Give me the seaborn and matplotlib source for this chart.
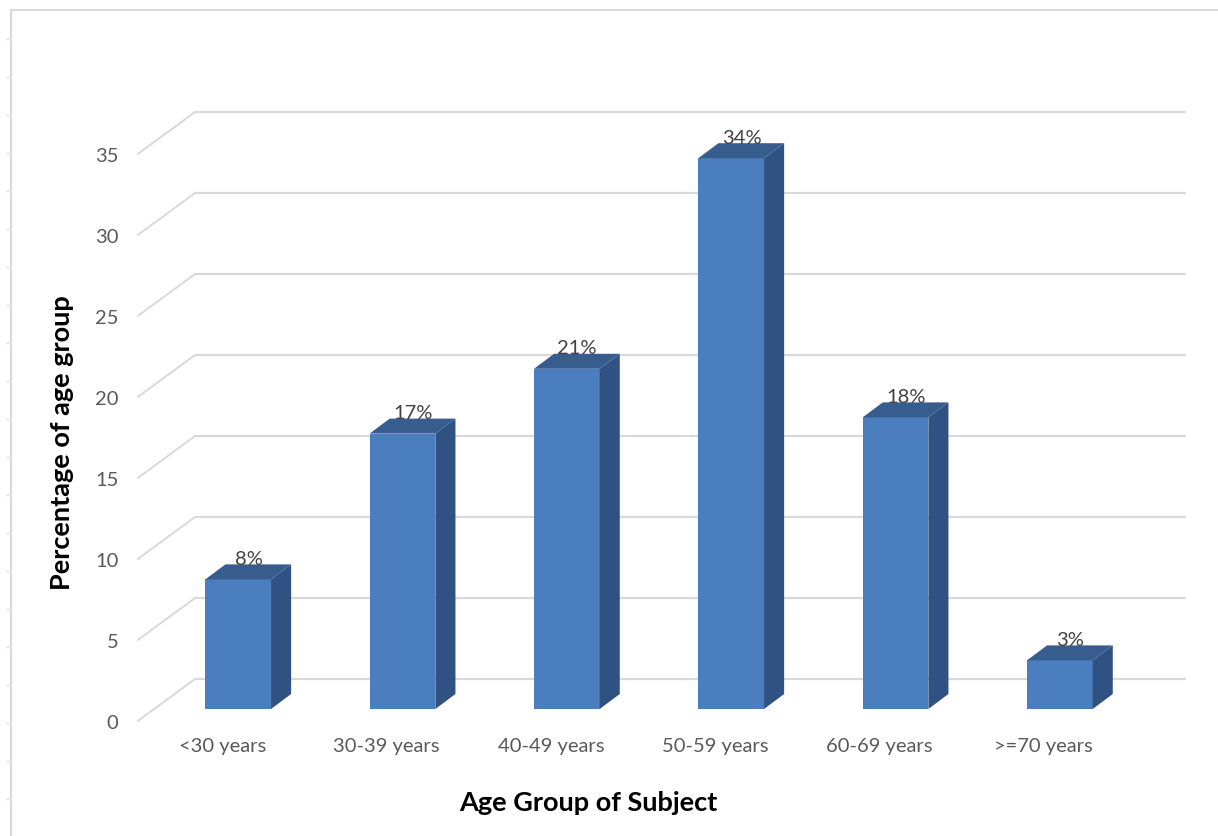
import matplotlib
matplotlib.use("Agg")
import matplotlib.pyplot as plt
from matplotlib.patches import Polygon
from matplotlib.transforms import ScaledTranslation
import seaborn as sns

# Share of subjects per age group (%)
age_groups = ["<30 years", "30-39 years", "40-49 years", "50-59 years", "60-69 years", ">=70 years"]
percentages = [8, 17, 21, 34, 18, 3]
y_ticks = [0, 5, 10, 15, 20, 25, 30, 35]

FRONT = "#4A7EBF"
TOP = "#375D8E"
SIDE = "#2F5282"
GRID = "#D9D9D9"
TICK_TXT = "#595959"
LABEL_TXT = "#404040"

sns.set_style("white")
plt.rcParams["font.family"] = ["Lato", "DejaVu Sans"]

W, H, DPI = 1218, 837, 100
fig = plt.figure(figsize=(W / DPI, H / DPI), dpi=DPI)
fig.patch.set_facecolor("white")

# plot area in pixels: bar front plane
left_px, right_px, base_px = 156, 1142, 710
px_per_unit = 16.2
ymax = 38
ax = fig.add_axes([left_px / W, (H - base_px) / H,
                   (right_px - left_px) / W, ymax * px_per_unit / H])
xlim = (-0.513, 5.513)
ax.set_xlim(*xlim)
ax.set_ylim(0, ymax)
for s in ax.spines.values():
    s.set_visible(False)

# data units per pixel, for the 3-D offsets
sx = (xlim[1] - xlim[0]) / (right_px - left_px)
sy = 1.0 / px_per_unit

# back wall and floor-to-wall gridlines
back_dx, back_dy = 41, 30      # wall offset from bar front plane
front_dx, front_dy = -16, -12  # axis front edge offset
for v in y_ticks:
    ax.plot([xlim[0] + back_dx * sx, xlim[1] + back_dx * sx],
            [v + back_dy * sy, v + back_dy * sy],
            color=GRID, lw=1.6, clip_on=False, zorder=0)
    ax.plot([xlim[0] + front_dx * sx, xlim[0] + back_dx * sx],
            [v + front_dy * sy, v + back_dy * sy],
            color=GRID, lw=1.4, clip_on=False, zorder=0)

# front faces of the columns
sns.barplot(x=age_groups, y=percentages, color=FRONT, saturation=1,
            width=0.40, ax=ax, zorder=3, edgecolor="none")

# side and top faces for the 3-D look
depth_dx, depth_dy = 20, 15
ddx, ddy = depth_dx * sx, depth_dy * sy
for bar, val in zip(ax.patches, percentages):
    x0, w, h = bar.get_x(), bar.get_width(), bar.get_height()
    side = Polygon([(x0 + w, 0), (x0 + w + ddx, ddy), (x0 + w + ddx, h + ddy), (x0 + w, h)],
                   closed=True, facecolor=SIDE, edgecolor="none", zorder=3, clip_on=False)
    top = Polygon([(x0, h), (x0 + ddx, h + ddy), (x0 + w + ddx, h + ddy), (x0 + w, h)],
                  closed=True, facecolor=TOP, edgecolor="none", zorder=3, clip_on=False)
    ax.add_patch(side)
    ax.add_patch(top)
    ax.annotate(f"{val}%", (x0 + w / 2, h), xytext=(7.5, 15), textcoords="offset points",
                ha="center", va="center", fontsize=14.5, color=LABEL_TXT, zorder=5,
                annotation_clip=False)

# tick labels on the front edge
ax.set_yticks(y_ticks)
ax.set_yticklabels([str(t) for t in y_ticks])
ax.tick_params(axis="y", length=0, pad=27, labelsize=14.5, labelcolor=TICK_TXT)
ax.tick_params(axis="x", length=0, pad=20, labelsize=14.5, labelcolor=TICK_TXT)
shift_y = ScaledTranslation(0, front_dy / DPI, fig.dpi_scale_trans)
for lab in ax.get_yticklabels():
    lab.set_transform(lab.get_transform() + shift_y)
shift_x = ScaledTranslation(front_dx / DPI, 0, fig.dpi_scale_trans)
for lab in ax.get_xticklabels():
    lab.set_transform(lab.get_transform() + shift_x)

title_font = dict(fontsize=19.5, fontweight="bold", color="black", va="center")
ax.set_xlabel("Age Group of Subject", **title_font)
ax.set_ylabel("Percentage of age group", **title_font)
ax.xaxis.set_label_coords((588 - left_px) / (right_px - left_px), (base_px - 803) / (ymax * px_per_unit))
ax.yaxis.set_label_coords((62 - left_px) / (right_px - left_px), (base_px - 443) / (ymax * px_per_unit))

# outer chart frame with small marks on the left edge
frame = fig.add_axes([0, 0, 1, 1], zorder=-1)
frame.set_xlim(0, W)
frame.set_ylim(H, 0)
frame.axis("off")
frame.plot([11, W], [11, 11], color=GRID, lw=1.5)
frame.plot([11, 11], [11, H], color=GRID, lw=1.5)
for yy in range(40, H, 38):
    frame.plot([6, 11], [yy, yy], color="#E4E4E4", lw=1)

fig.savefig("out.png", dpi=DPI, facecolor="white")
